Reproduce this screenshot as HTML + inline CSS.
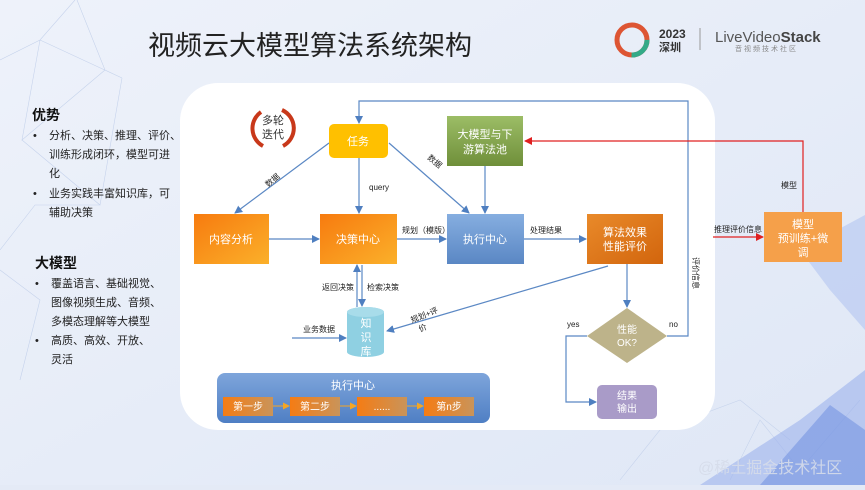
<!DOCTYPE html>
<html><head><meta charset="utf-8"><style>
html,body{margin:0;padding:0;}
body{width:865px;height:485px;overflow:hidden;background:#e4eaf6;font-family:"Liberation Sans","Noto Sans CJK SC",sans-serif;}
svg text{font-family:"Liberation Sans","Noto Sans CJK SC",sans-serif;}
</style></head><body>
<svg width="865" height="485" viewBox="0 0 865 485" xmlns="http://www.w3.org/2000/svg">
<defs>
<linearGradient id="bg" x1="0" y1="0" x2="1" y2="1"><stop offset="0" stop-color="#eef2fa"/><stop offset="1" stop-color="#dfe7f6"/></linearGradient>
<linearGradient id="or" x1="0" y1="0" x2="1" y2="1"><stop offset="0" stop-color="#f77b0f"/><stop offset="1" stop-color="#fbb02a"/></linearGradient>
<linearGradient id="gr" x1="0" y1="0" x2="0" y2="1"><stop offset="0" stop-color="#9cbd66"/><stop offset="1" stop-color="#6f8f3a"/></linearGradient>
<linearGradient id="bl" x1="0" y1="0" x2="0" y2="1"><stop offset="0" stop-color="#86aee0"/><stop offset="1" stop-color="#5a87c4"/></linearGradient>
<linearGradient id="do" x1="0" y1="0" x2="1" y2="1"><stop offset="0" stop-color="#e98a2a"/><stop offset="1" stop-color="#d2650d"/></linearGradient>
<linearGradient id="ep" x1="0" y1="0" x2="0" y2="1"><stop offset="0" stop-color="#7ea5db"/><stop offset="1" stop-color="#4f7fc4"/></linearGradient>
<linearGradient id="st" x1="0" y1="0" x2="1" y2="0"><stop offset="0" stop-color="#f57c14"/><stop offset="1" stop-color="#c9945a"/></linearGradient>
<marker id="a" markerWidth="8" markerHeight="8" refX="7" refY="4" orient="auto" markerUnits="userSpaceOnUse"><path d="M0,0 L8,4 L0,8z" fill="#4f7fc0"/></marker>
<marker id="r" markerWidth="8" markerHeight="8" refX="7" refY="4" orient="auto" markerUnits="userSpaceOnUse"><path d="M0,0 L8,4 L0,8z" fill="#e02020"/></marker>
<marker id="o" markerWidth="7" markerHeight="7" refX="6" refY="3.5" orient="auto" markerUnits="userSpaceOnUse"><path d="M0,0 L7,3.5 L0,7z" fill="#f5a623"/></marker>
</defs>
<rect width="865" height="485" fill="url(#bg)"/>
<g stroke="#c6d3ec" stroke-width="0.6" fill="none">
<path d="M0,60 L40,40 L75,0 M40,40 L22,140 L105,70 L77,0 M105,70 L122,78 L40,40 M122,78 L100,205 L22,140 M0,250 L35,205 L100,205 M20,380 L40,300 L0,270 M730,480 L760,420 L800,470 L860,400 M740,400 L790,440 M620,480 L660,430 L740,400"/>
</g>
<polygon points="700,485 800,420 865,370 865,485" fill="#9cb3ec" opacity="0.6"/>
<polygon points="760,485 830,405 865,430 865,485" fill="#6f8fe0" opacity="0.55"/>
<polygon points="800,250 865,215 865,330 830,290" fill="#a9bdf0" opacity="0.5"/>
<text x="148" y="55" font-size="27" fill="#222">视频云大模型算法系统架构</text>
<circle cx="632" cy="40" r="15" fill="none" stroke="#d53" stroke-width="5"/>
<circle cx="632" cy="40" r="15" fill="none" stroke="#3a8" stroke-width="5" stroke-dasharray="24 70"/>
<text x="659" y="38" font-size="12" font-weight="bold" fill="#333">2023</text>
<text x="659" y="51" font-size="11" font-weight="bold" fill="#333">深圳</text>
<line x1="700" y1="28" x2="700" y2="50" stroke="#999"/>
<text x="715" y="42" font-size="15" fill="#555">LiveVideo<tspan font-weight="bold" fill="#444">Stack</tspan></text>
<text x="735" y="51" font-size="7" fill="#888" letter-spacing="2">音视频技术社区</text>
<rect x="180" y="83" width="535" height="347" rx="38" fill="#fff"/>
<text x="32" y="120" font-size="14" font-weight="bold" fill="#111">优势</text>
<g font-size="11" fill="#222">
<text x="33" y="139">•</text><text x="49" y="139">分析、决策、推理、评价、</text>
<text x="49" y="158">训练形成闭环，模型可进</text><text x="49" y="177">化</text>
<text x="33" y="197">•</text><text x="49" y="197">业务实践丰富知识库，可</text>
<text x="49" y="216">辅助决策</text>
<text x="35" y="268" font-size="14" font-weight="bold" fill="#111">大模型</text>
<text x="35" y="287">•</text><text x="51" y="287">覆盖语言、基础视觉、</text>
<text x="51" y="306">图像视频生成、音频、</text>
<text x="51" y="325">多模态理解等大模型</text>
<text x="35" y="344">•</text><text x="51" y="344">高质、高效、开放、</text>
<text x="51" y="363">灵活</text>
</g>
<path d="M261,112 A20,20 0 0 0 263,146" fill="none" stroke="#c8381a" stroke-width="4"/>
<path d="M283,146 A20,20 0 0 0 282,110" fill="none" stroke="#c8381a" stroke-width="4"/>
<text x="273" y="124" font-size="11" text-anchor="middle" fill="#333">多轮</text>
<text x="273" y="138" font-size="11" text-anchor="middle" fill="#333">迭代</text>
<g stroke="#5b88c4" stroke-width="1.2" fill="none">
<line x1="329" y1="143" x2="235" y2="213" marker-end="url(#a)"/>
<line x1="359" y1="158" x2="359" y2="213" marker-end="url(#a)"/>
<line x1="389" y1="143" x2="469" y2="213" marker-end="url(#a)"/>
<line x1="485" y1="166" x2="485" y2="213" marker-end="url(#a)"/>
<line x1="269" y1="239" x2="319" y2="239" marker-end="url(#a)"/>
<line x1="397" y1="239" x2="446" y2="239" marker-end="url(#a)"/>
<line x1="524" y1="239" x2="586" y2="239" marker-end="url(#a)"/>
<line x1="357" y1="307" x2="357" y2="265" marker-end="url(#a)"/>
<line x1="362" y1="265" x2="362" y2="306" marker-end="url(#a)"/>
<line x1="608" y1="266" x2="387" y2="331" marker-end="url(#a)"/>
<line x1="292" y1="338" x2="346" y2="338" marker-end="url(#a)"/>
<line x1="627" y1="264" x2="627" y2="307" marker-end="url(#a)"/>
<polyline points="667,336 688,336 688,101 359,101 359,123" marker-end="url(#a)"/>
<polyline points="587,336 566,336 566,402 596,402" marker-end="url(#a)"/>
</g>
<g stroke="#e02020" stroke-width="1.2" fill="none">
<polyline points="803,212 803,141 525,141" marker-end="url(#r)"/>
<line x1="713" y1="237" x2="763" y2="237" marker-end="url(#r)"/>
</g>
<g font-size="8" fill="#222">
<text x="265" y="185" transform="rotate(-40 270 182)">数据</text>
<text x="427" y="162" transform="rotate(40 432 160)">数据</text>
<text x="369" y="190">query</text>
<text x="402" y="233">规划（模版）</text>
<text x="530" y="233">处理结果</text>
<text x="322" y="290">返回决策</text>
<text x="367" y="290">检索决策</text>
<text x="303" y="332">业务数据</text>
<text x="412" y="323" transform="rotate(-22 412 323)">规划+评</text>
<text x="420" y="332" transform="rotate(-22 420 332)">价</text>
<text x="567" y="327">yes</text>
<text x="669" y="327">no</text>
<text x="781" y="188">模型</text>
<text x="714" y="232">推理评价信息</text>
<text x="693" y="257" transform="rotate(90 693 257)">评价信息</text>
</g>
<rect x="329" y="124" width="59" height="34" rx="5" fill="#ffc000"/>
<text x="358" y="145" font-size="11" text-anchor="middle" fill="#fff">任务</text>
<rect x="447" y="116" width="76" height="50" fill="url(#gr)"/>
<text x="485" y="138" font-size="11" text-anchor="middle" fill="#fff">大模型与下</text>
<text x="485" y="153" font-size="11" text-anchor="middle" fill="#fff">游算法池</text>
<rect x="194" y="214" width="75" height="50" fill="url(#or)"/>
<text x="231" y="243" font-size="11" text-anchor="middle" fill="#fff">内容分析</text>
<rect x="320" y="214" width="77" height="50" fill="url(#or)"/>
<text x="358" y="243" font-size="11" text-anchor="middle" fill="#fff">决策中心</text>
<rect x="447" y="214" width="77" height="50" fill="url(#bl)"/>
<text x="485" y="243" font-size="11" text-anchor="middle" fill="#fff">执行中心</text>
<rect x="587" y="214" width="76" height="50" fill="url(#do)"/>
<text x="625" y="236" font-size="11" text-anchor="middle" fill="#fff">算法效果</text>
<text x="625" y="250" font-size="11" text-anchor="middle" fill="#fff">性能评价</text>
<rect x="764" y="212" width="78" height="50" fill="#f5a04a"/>
<text x="803" y="228" font-size="11" text-anchor="middle" fill="#fff">模型</text>
<text x="803" y="242" font-size="11" text-anchor="middle" fill="#fff">预训练+微</text>
<text x="803" y="256" font-size="11" text-anchor="middle" fill="#fff">调</text>
<path d="M347,312 L347,352 A18.5,5 0 0 0 384,352 L384,312 A18.5,5 0 0 0 347,312z" fill="#8fd0e2"/>
<ellipse cx="365.5" cy="312" rx="18.5" ry="5" fill="#a8dcea"/>
<text x="366" y="327" font-size="11" text-anchor="middle" fill="#fff">知</text>
<text x="366" y="341" font-size="11" text-anchor="middle" fill="#fff">识</text>
<text x="366" y="355" font-size="11" text-anchor="middle" fill="#fff">库</text>
<polygon points="627,308 667,336 627,363 587,336" fill="#bdb38a"/>
<text x="627" y="333" font-size="10" text-anchor="middle" fill="#fff">性能</text>
<text x="627" y="346" font-size="10" text-anchor="middle" fill="#fff">OK?</text>
<rect x="597" y="385" width="60" height="34" rx="5" fill="#a99bc8"/>
<text x="627" y="399" font-size="10" text-anchor="middle" fill="#fff">结果</text>
<text x="627" y="412" font-size="10" text-anchor="middle" fill="#fff">输出</text>
<rect x="217" y="373" width="273" height="50" rx="8" fill="url(#ep)"/>
<text x="353" y="389" font-size="11" text-anchor="middle" fill="#fff">执行中心</text>
<g font-size="10" fill="#fff" text-anchor="middle">
<rect x="223" y="397" width="50" height="19" fill="url(#st)"/><text x="248" y="410">第一步</text>
<rect x="290" y="397" width="50" height="19" fill="url(#st)"/><text x="315" y="410">第二步</text>
<rect x="357" y="397" width="50" height="19" fill="url(#st)"/><text x="382" y="410">......</text>
<rect x="424" y="397" width="50" height="19" fill="url(#st)"/><text x="449" y="410">第n步</text>
</g>
<g stroke="#f5a623" stroke-width="1"><line x1="273" y1="406" x2="289" y2="406" marker-end="url(#o)"/><line x1="340" y1="406" x2="356" y2="406" marker-end="url(#o)"/><line x1="407" y1="406" x2="423" y2="406" marker-end="url(#o)"/></g>
<text x="698" y="473" font-size="16" fill="#d6dcea" opacity="0.9">@稀土掘金技术社区</text>
</svg>
</body></html>
